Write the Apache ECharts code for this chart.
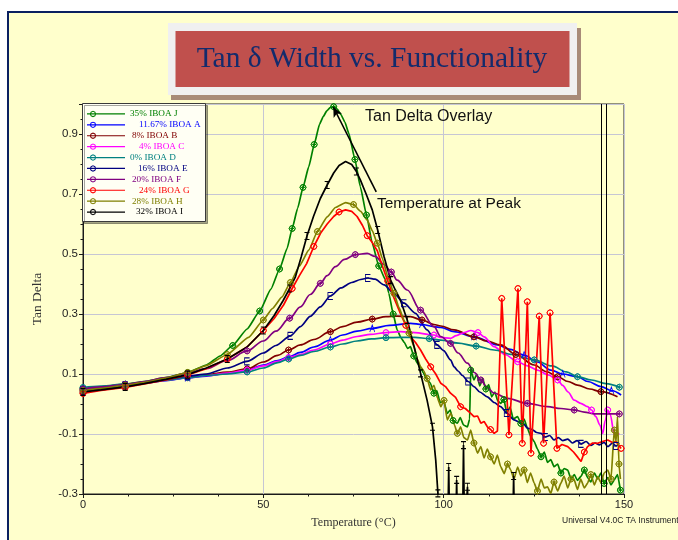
<!DOCTYPE html>
<html>
<head>
<meta charset="utf-8">
<script src="https://cdn.jsdelivr.net/npm/echarts@6/dist/echarts.min.js"></script>
<style>
  html, body { margin: 0; padding: 0; background: #fff; }
  #chart { width: 678px; height: 540px; }
</style>
</head>
<body>
<div id="chart"></div>
<script>
// Tan delta vs temperature, one curve per IBOA level: [temperature °C, tan delta]
const curveJ = [[0,0.050],[5,0.057],[11.7,0.066],[17,0.075],[23,0.088],[29,0.105],[34.2,0.130],[38,0.160],[41.5,0.195],[45.5,0.250],[49,0.310],[52.1,0.383],[54.5,0.450],[56.6,0.519],[58,0.585],[59.5,0.652],[61,0.722],[62.6,0.791],[64.1,0.865],[65.6,0.933],[66.6,0.958],[67.6,0.977],[68.5,0.988],[69.5,0.991],[70.5,0.983],[71.5,0.965],[72.6,0.940],[73.7,0.902],[75.4,0.815],[76.9,0.724],[78.6,0.630],[80.2,0.536],[82,0.460],[83.9,0.413],[84.8,0.369],[86,0.300],[87.1,0.247],[88.2,0.220],[89.1,0.205],[90,0.185],[90.8,0.191],[91.7,0.160],[92.7,0.136],[93.5,0.125],[94.3,0.105],[95.4,0.080],[96.3,0.070],[97.3,0.036],[98.1,0.045],[99,0.005],[100,0.010],[101,-0.031],[101.8,-0.020],[102.6,-0.055],[103.8,-0.064],[104.6,-0.045],[105.5,-0.070],[106.6,-0.076],[107.2,-0.050],[107.5,0.113],[108.4,0.080],[109.2,0.100],[110,0.060],[110.8,0.085],[111.7,0.050],[112.5,0.065],[113.3,0.024],[114.2,0.040],[115,0.010],[115.8,0.002],[116.7,0.015],[117.5,-0.030],[118.4,-0.010],[119.3,-0.050],[120.5,-0.042],[121.4,-0.065],[122.3,-0.050],[123.2,-0.080],[124.2,-0.109],[125.1,-0.125],[126,-0.150],[127,-0.176],[127.9,-0.160],[128.8,-0.195],[129.7,-0.185],[130.6,-0.209],[131.6,-0.200],[132.5,-0.230],[133.4,-0.215],[134.4,-0.220],[135.3,-0.250],[136.2,-0.235],[137.1,-0.255],[138,-0.242],[139,-0.220],[139.9,-0.245],[140.8,-0.260],[141.8,-0.230],[142.7,-0.250],[143.6,-0.230],[144.5,-0.265],[145.5,-0.245],[146.4,-0.270],[147.3,-0.253],[148.2,-0.235],[149,-0.287]];

const curveA = [[0,0.050],[5,0.055],[11.7,0.063],[17,0.070],[23,0.078],[29,0.087],[34.2,0.093],[40,0.102],[45.5,0.113],[50,0.130],[54,0.145],[57,0.157],[60.3,0.172],[64,0.190],[68.6,0.213],[72,0.230],[76,0.243],[80.2,0.252],[85,0.262],[90.8,0.269],[94,0.265],[97.3,0.258],[99.2,0.255],[102.9,0.241],[108.4,0.224],[114.9,0.197],[118.5,0.182],[122.3,0.163],[126,0.140],[129.7,0.113],[133,0.100],[137.1,0.091],[140,0.075],[143.6,0.058],[146.5,0.045],[149.2,0.030]];

const curveB = [[0,0.040],[5,0.048],[11.7,0.060],[17,0.070],[23,0.082],[29,0.092],[34.2,0.098],[40,0.106],[45.5,0.117],[50,0.140],[54,0.162],[57,0.180],[60.3,0.197],[64,0.215],[68.6,0.241],[72,0.258],[76,0.273],[80.2,0.283],[84,0.291],[87,0.293],[90.8,0.291],[94,0.280],[97.3,0.265],[99.2,0.260],[102.9,0.247],[108.4,0.224],[112,0.210],[115.8,0.197],[120,0.165],[125.1,0.130],[128.5,0.108],[131.6,0.091],[134.5,0.075],[137.1,0.063],[140.5,0.050],[143.6,0.041],[148.2,0.024]];

const curveC = [[0,0.045],[5,0.053],[11.7,0.062],[17,0.070],[23,0.080],[29,0.088],[34.2,0.095],[40,0.103],[45.5,0.113],[50,0.127],[54,0.142],[57,0.155],[60.3,0.165],[64,0.180],[68.6,0.200],[72,0.213],[76,0.225],[79.7,0.232],[84,0.238],[88,0.241],[92,0.238],[97.3,0.230],[99.2,0.222],[101.9,0.219],[103.5,0.228],[105.7,0.238],[107.5,0.245],[109.5,0.238],[111.2,0.224],[114,0.191],[117,0.165],[120.5,0.141],[123,0.128],[126,0.113],[129,0.097],[131.6,0.080],[133,0.062],[134.5,0.040],[136.2,0.013],[138,0.002],[139.9,-0.009],[141,-0.020],[142.2,-0.042],[143.3,-0.070],[144.1,-0.098],[144.8,-0.055],[145.5,-0.020],[146.2,-0.035],[147.3,-0.103],[148.7,-0.098]];

const curveD = [[0,0.055],[5,0.060],[11.7,0.066],[17,0.072],[23,0.080],[29,0.088],[34.2,0.095],[40,0.100],[45.5,0.107],[50,0.120],[54,0.138],[57,0.150],[60.3,0.162],[64,0.175],[68.6,0.190],[72,0.200],[76,0.210],[80,0.217],[84,0.221],[88,0.222],[92,0.222],[96,0.218],[99.2,0.213],[104,0.203],[109,0.193],[114,0.180],[119,0.165],[125.1,0.147],[130,0.127],[134,0.107],[137.1,0.091],[141,0.080],[145,0.068],[148.7,0.056]];

const curveE = [[0,0.045],[5,0.052],[11.7,0.062],[17,0.072],[23,0.083],[29,0.093],[34.2,0.100],[40,0.120],[45.5,0.142],[50,0.170],[53.5,0.195],[57.5,0.227],[60.3,0.258],[63,0.292],[65.8,0.324],[68.6,0.360],[71.5,0.387],[74.5,0.405],[77,0.415],[79,0.420],[81,0.416],[83.5,0.397],[86.2,0.369],[89,0.336],[92.2,0.302],[95.4,0.247],[98.2,0.197],[100,0.178],[101.9,0.147],[102.9,0.124],[104,0.110],[105.2,0.095],[106.8,0.075],[108.4,0.058],[110,0.040],[112.1,0.024],[114,0.005],[115.8,-0.009],[117.5,-0.030],[119.5,-0.053],[121,-0.060],[122.3,-0.068],[123.2,-0.080],[124.5,-0.085],[125.8,-0.095],[127,-0.098],[128.2,-0.110],[129.4,-0.105],[130.6,-0.120],[131.8,-0.112],[133,-0.122],[134.4,-0.117],[135.7,-0.130],[137,-0.122],[138.1,-0.133],[139.5,-0.125],[140.8,-0.138],[142,-0.130],[143.2,-0.136],[144.5,-0.128],[145.5,-0.142],[146.8,-0.130],[147.8,-0.140],[148.7,-0.131]];

const curveF = [[0,0.050],[5,0.057],[11.7,0.065],[17,0.075],[23,0.088],[29,0.103],[34.2,0.118],[40,0.145],[45.5,0.177],[50,0.210],[53.5,0.243],[57.3,0.286],[60.3,0.324],[63,0.365],[65.8,0.402],[67.7,0.428],[70,0.458],[72.5,0.482],[75.5,0.498],[78.8,0.502],[81,0.492],[83.5,0.465],[85.5,0.440],[87.1,0.413],[89.9,0.380],[93.6,0.313],[97.3,0.258],[99.2,0.225],[101.9,0.202],[104,0.170],[106.6,0.136],[108.5,0.105],[110.3,0.080],[112,0.055],[114,0.036],[117.7,0.019],[123.2,0.002],[128.8,-0.009],[132.5,-0.015],[136.2,-0.020],[139,-0.027],[141.8,-0.033],[145,-0.033],[148.7,-0.033]];

const curveG = [[0,0.035],[5,0.045],[11.7,0.055],[17,0.067],[23,0.080],[29,0.097],[34.2,0.118],[40,0.150],[45.5,0.190],[50,0.245],[53,0.285],[55.6,0.330],[58,0.385],[60,0.428],[62,0.468],[64,0.525],[66,0.572],[67.7,0.600],[69.5,0.625],[71,0.640],[72.8,0.647],[74.5,0.642],[76,0.625],[77.5,0.595],[78.8,0.561],[80.2,0.538],[81.6,0.511],[83,0.460],[84.5,0.410],[86,0.360],[88,0.302],[89.5,0.262],[90.8,0.224],[92.2,0.205],[93.6,0.180],[95,0.150],[96.4,0.124],[97.8,0.100],[99.2,0.069],[100.5,0.058],[101.9,0.036],[103.3,0.022],[104.7,-0.009],[106,-0.015],[107.5,-0.031],[108.4,-0.042],[109.4,-0.040],[110.3,-0.064],[111.2,-0.058],[112.1,-0.076],[113,-0.085],[114,-0.098],[114.9,-0.090],[116.1,0.352],[118.1,-0.103],[120.6,0.385],[121.8,-0.131],[123.2,0.341],[124.2,-0.164],[126.5,0.293],[127.7,-0.131],[129.5,0.304],[131.4,-0.148],[132.8,-0.135],[134.4,-0.142],[136,-0.160],[137.2,-0.178],[138.1,-0.192],[139,-0.160],[139.9,-0.142],[141.3,-0.130],[142.7,-0.131],[144,-0.125],[145.5,-0.120],[146.8,-0.128],[147.8,-0.125],[149.2,-0.148]];

const curveH = [[0,0.045],[5,0.052],[11.7,0.062],[17,0.072],[23,0.086],[29,0.105],[34.2,0.128],[40,0.165],[45.9,0.222],[50,0.280],[52.5,0.318],[55.2,0.357],[57.5,0.405],[60,0.460],[62.6,0.513],[65,0.575],[67.7,0.624],[70,0.655],[72.8,0.671],[75,0.665],[77,0.642],[78.8,0.613],[80.2,0.578],[81.6,0.536],[83,0.485],[84.5,0.425],[86.2,0.369],[87.6,0.322],[89,0.280],[90.4,0.236],[91.8,0.191],[92.7,0.150],[93.6,0.124],[94.5,0.110],[95.4,0.085],[96.4,0.047],[97.3,0.062],[98.3,0.020],[99.2,-0.009],[100.1,0.012],[101,-0.053],[102,-0.030],[103,-0.070],[103.8,-0.098],[104.7,-0.076],[105.6,-0.112],[106.6,-0.120],[107.5,-0.087],[108.4,-0.130],[109.4,-0.164],[110.3,-0.142],[111.2,-0.180],[112.1,-0.150],[113,-0.176],[114,-0.200],[114.9,-0.170],[115.8,-0.209],[116.8,-0.232],[117.7,-0.200],[118.6,-0.220],[119.5,-0.250],[120.5,-0.210],[121.4,-0.240],[122.3,-0.220],[123.2,-0.262],[124.1,-0.230],[125.1,-0.264],[126,-0.290],[127,-0.250],[127.9,-0.280],[128.8,-0.276],[129.7,-0.298],[130.6,-0.260],[131.6,-0.290],[132.5,-0.264],[133.4,-0.240],[134.4,-0.280],[135.3,-0.250],[136.2,-0.253],[137.1,-0.285],[138,-0.250],[139,-0.280],[139.9,-0.264],[140.8,-0.235],[141.8,-0.270],[142.7,-0.242],[143.6,-0.262],[144.5,-0.230],[145.5,-0.220],[146.4,-0.250],[147.3,-0.087],[147.8,-0.125],[148.2,-0.042],[148.6,-0.200],[149,-0.250]];

const curveI = [[0,0.040],[5,0.047],[11.7,0.057],[17,0.068],[23,0.082],[29,0.098],[34.2,0.120],[40,0.150],[45.5,0.190],[50,0.245],[53,0.295],[55.5,0.345],[57.3,0.385],[58.9,0.424],[60.5,0.490],[62.1,0.560],[63.9,0.625],[65.8,0.685],[67.7,0.730],[69.5,0.770],[71,0.795],[72.8,0.808],[74.5,0.798],[75.8,0.775],[76.9,0.747],[78.5,0.700],[80.2,0.647],[81.7,0.580],[83.5,0.490],[85.3,0.413],[86.6,0.380],[88,0.347],[89.9,0.280],[91.8,0.191],[93.6,0.102],[95.4,0.013],[96.9,-0.076],[97.8,-0.187],[98.4,-0.298],[99,-0.450],[101.1,-0.450],[101.4,-0.210],[101.7,-0.450],[103.3,-0.450],[103.6,-0.253],[103.9,-0.450],[105.2,-0.450],[105.5,-0.137],[105.8,-0.450],[106.3,-0.450],[106.6,-0.276],[106.9,-0.450],[119.1,-0.450],[119.4,-0.240],[119.7,-0.450],[150,-0.450]];

const seriesNames = ['35% IBOA J', '11.67% IBOA A', '8% IBOA B', '4% IBOA C', '0% IBOA D',
                     '16% IBOA E', '20% IBOA F', '24% IBOA G', '28% IBOA H', '32% IBOA I'];
const seriesCurves = [curveJ, curveA, curveB, curveC, curveD, curveE, curveF, curveG, curveH, curveI];

// Cursor lines (°C) and the arrow pointing at the highest peak
const cursorTemps = [143.8, 145.2];
const peakArrow = { from: [81.3, 0.707], to: [69.4, 0.99] };

const xTicks = { min: 0, max: 150, step: 50 };
const yTicks = { min: -0.3, max: 1.0, step: 0.2 };

// ---- styling ----
const seriesColors = ['#008000', '#0000ff', '#800000', '#ff00ff', '#008080',
                      '#000080', '#800080', '#ff0000', '#808000', '#000000'];
// Outline-only glyphs: every path is traced forward and back so it encloses no area.
const GLYPH = {
  cross: 'path://M5,0L8.5,1.5L10,5L8.5,8.5L5,10L1.5,8.5L0,5L1.5,1.5L5,0L1.5,1.5L0,5L1.5,8.5L5,10L8.5,8.5L10,5L8.5,1.5L5,0ZM5,2L5,8L5,2ZM2,5L8,5L2,5Z',
  ring: 'path://M5,0L8.5,1.5L10,5L8.5,8.5L5,10L1.5,8.5L0,5L1.5,1.5L5,0L1.5,1.5L0,5L1.5,8.5L5,10L8.5,8.5L10,5L8.5,1.5L5,0Z',
  A: 'path://M0,10L4,0L8,10L4,0ZM1.6,6L6.4,6Z',
  E: 'path://M7,0L0,0L0,10L7,10L0,10L0,0ZM0,5L5,5Z',
  I: 'path://M0,0L6,0ZM3,0L3,10ZM0,10L6,10Z'
};
const seriesGlyphs = ['cross', 'A', 'cross', 'ring', 'cross', 'E', 'cross', 'ring', 'cross', 'I'];
const glyphSize = { cross: [6, 6], ring: [6, 6], A: [5, 7], E: [5, 7], I: [5, 7] };
const seriesSmooth = [0.15, 0.35, 0.35, 0.3, 0.35, 0.25, 0.35, false, 0.15, false];
const legendIndent = { '35% IBOA J': 0, '11.67% IBOA A': 9, '8% IBOA B': 2, '4% IBOA C': 9, '0% IBOA D': 0,
                       '16% IBOA E': 8, '20% IBOA F': 2, '24% IBOA G': 9, '28% IBOA H': 2, '32% IBOA I': 6 };
// Legend key: a thin rule with a small ring near its left end (38 x 8 box)
const LEGEND_KEY = 'path://M0,0L38,0L38,0.01L0,0.01Z' +
  'M0,3.4L38,3.4L38,4.6L0,4.6Z' +
  'M6,0.8L8.26,1.74L9.2,4L8.26,6.26L6,7.2L3.74,6.26L2.8,4L3.74,1.74Z' +
  'M6,1.9L4.52,2.52L3.9,4L4.52,5.48L6,6.1L7.48,5.48L8.1,4L7.48,2.52Z' +
  'M0,7.99L38,7.99L38,8L0,8Z';
const MARK_STEP = 42;   // px of path between glyphs

const chart = echarts.init(document.getElementById('chart'), null, { renderer: 'canvas' });

const axisInk = '#1a1a1a';
const gridInk = '#c6c6d4';

function buildSeries(i) {
  const c = seriesColors[i];
  const g = seriesGlyphs[i];
  const s = {
    name: seriesNames[i],
    type: 'line',
    data: seriesCurves[i],
    smooth: seriesSmooth[i],
    smoothMonotone: 'x',
    symbol: GLYPH[g],
    symbolSize: glyphSize[g],
    showSymbol: true,
    color: c,
    lineStyle: { color: c, width: 1.7 },
    itemStyle: { color: c, borderColor: c, borderWidth: 0.9 },
    emphasis: { disabled: true },
    animation: false,
    z: 2
  };
  if (i === seriesNames.length - 1) {
    s.markLine = {
      silent: true,
      animation: false,
      symbol: ['none', 'none'],
      label: { show: false },
      emphasis: { disabled: true },
      lineStyle: { color: '#000', width: 1, type: 'solid' },
      data: [
        ...cursorTemps.map(t => ({ xAxis: t })),
        [
          { coord: peakArrow.from, symbol: 'none', lineStyle: { color: '#000', width: 1.6, type: 'solid' } },
          { coord: peakArrow.to, symbol: 'arrow', symbolSize: [7, 10], lineStyle: { color: '#000', width: 1.6, type: 'solid' } }
        ]
      ]
    };
  }
  return s;
}

const rich = {};
Object.values(legendIndent).forEach(w => { rich['p' + w] = { width: w, lineHeight: 10.9 }; });

const option = {
  backgroundColor: '#ffffcc',
  animation: false,
  grid: {
    left: 83, right: 54, top: 104, bottom: 46,
    show: true, borderColor: '#222', borderWidth: 1, backgroundColor: 'transparent'
  },
  xAxis: {
    type: 'value',
    min: xTicks.min, max: xTicks.max, interval: xTicks.step,
    axisLine: { onZero: false, lineStyle: { color: axisInk, width: 1 } },
    axisTick: { length: 4, lineStyle: { color: axisInk } },
    minorTick: { show: true, splitNumber: 4, length: 2.5, lineStyle: { color: axisInk } },
    splitLine: { show: true, lineStyle: { color: gridInk, width: 1 } },
    axisLabel: { fontFamily: 'Liberation Sans', fontSize: 11, color: '#222', margin: 5 },
    name: 'Temperature (°C)',
    nameLocation: 'middle',
    nameGap: 23,
    nameTextStyle: { fontFamily: 'Liberation Serif', fontSize: 12, color: '#333' }
  },
  yAxis: {
    type: 'value',
    min: yTicks.min, max: yTicks.max, interval: yTicks.step,
    axisLine: { show: true, onZero: false, lineStyle: { color: axisInk, width: 1 } },
    axisTick: { show: true, length: 4, lineStyle: { color: axisInk } },
    minorTick: { show: true, splitNumber: 4, length: 2.5, lineStyle: { color: axisInk } },
    splitLine: { show: true, lineStyle: { color: gridInk, width: 1 } },
    axisLabel: {
      fontFamily: 'Liberation Sans', fontSize: 11.5, color: '#222', margin: 5,
      showMaxLabel: false,
      formatter: v => (Math.round(v * 10) / 10).toFixed(1)
    },
    name: 'Tan Delta',
    nameLocation: 'middle',
    nameGap: 39,
    nameTextStyle: { fontFamily: 'Liberation Serif', fontSize: 13.5, color: '#333' }
  },
  legend: {
    orient: 'vertical',
    left: 87, top: 108.5,
    padding: 0,
    itemWidth: 38, itemHeight: 8, itemGap: 0,
    selectedMode: false,
    z: 6,
    itemStyle: { borderWidth: 0 },
    textStyle: { fontFamily: 'Liberation Serif', fontSize: 9.2, lineHeight: 10.9, rich: rich },
    formatter: name => '{p' + legendIndent[name] + '|}' + name,
    data: seriesNames.map((n, i) => ({
      name: n,
      icon: LEGEND_KEY,
      itemStyle: { color: seriesColors[i], borderWidth: 0 },
      textStyle: { color: seriesColors[i] }
    }))
  },
  graphic: [
    // page margin and frame
    { type: 'rect', z: -5, silent: true, shape: { x: 0, y: 0, width: 678, height: 11 }, style: { fill: '#ffffff' } },
    { type: 'rect', z: -5, silent: true, shape: { x: 0, y: 0, width: 7, height: 540 }, style: { fill: '#ffffff' } },
    { type: 'rect', z: -4, silent: true, shape: { x: 7, y: 11, width: 671, height: 2 }, style: { fill: '#0a2060' } },
    { type: 'rect', z: -4, silent: true, shape: { x: 7, y: 11, width: 2, height: 529 }, style: { fill: '#0a2060' } },
    // title plate
    { type: 'rect', z: -3, silent: true, shape: { x: 171, y: 28, width: 410, height: 72 }, style: { fill: '#a88b78' } },
    { type: 'rect', z: -2, silent: true, shape: { x: 168, y: 23, width: 409, height: 72 }, style: { fill: '#f0f0f0' } },
    { type: 'rect', z: -1, silent: true, shape: { x: 175.5, y: 31, width: 394, height: 56 }, style: { fill: '#c0504d' } },
    { type: 'text', z: 0, silent: true,
      style: { text: 'Tan δ Width vs. Functionality', x: 372, y: 59, align: 'center', verticalAlign: 'middle',
               font: '29.5px "Liberation Serif"', fill: '#132b6c' } },
    // legend panel
    { type: 'rect', z: 3, silent: true, shape: { x: 82.5, y: 103.5, width: 123, height: 118 },
      style: { fill: '#fffff4', stroke: '#3a3a3a', lineWidth: 1,
               shadowColor: 'rgba(0,0,0,0.35)', shadowOffsetX: 2, shadowOffsetY: 2, shadowBlur: 0 } },
    // annotations
    { type: 'text', z: 5, silent: true,
      style: { text: 'Tan Delta Overlay', x: 365, y: 117, verticalAlign: 'middle',
               font: '16px "Liberation Sans"', fill: '#111' } },
    { type: 'text', z: 5, silent: true,
      style: { text: 'Temperature at Peak', x: 377, y: 203.5, verticalAlign: 'middle',
               font: '15.5px "Liberation Sans"', fill: '#111' } },
    { type: 'text', z: 5, silent: true,
      style: { text: 'Universal V4.0C TA Instruments', x: 562, y: 521, verticalAlign: 'middle',
               font: '8.5px "Liberation Sans"', fill: '#222' } }
  ],
  series: seriesNames.map((_, i) => buildSeries(i))
};

chart.setOption(option);

// Place glyphs at even path-length spacing along each drawn curve.
function withGlyphs(points) {
  let travelled = 0, nextAt = 0, prev = null;
  return points.map(([t, v]) => {
    const px = chart.convertToPixel({ gridIndex: 0 }, [t, v]);
    if (prev) travelled += Math.hypot(px[0] - prev[0], px[1] - prev[1]);
    prev = px;
    const visible = v >= yTicks.min && v <= yTicks.max;
    if (visible && travelled >= nextAt) {
      nextAt = travelled + MARK_STEP;
      return { value: [t, v] };
    }
    return { value: [t, v], symbol: 'none' };
  });
}

chart.setOption({
  series: seriesCurves.map(curve => ({ data: withGlyphs(curve) }))
});
</script>
</body>
</html>
